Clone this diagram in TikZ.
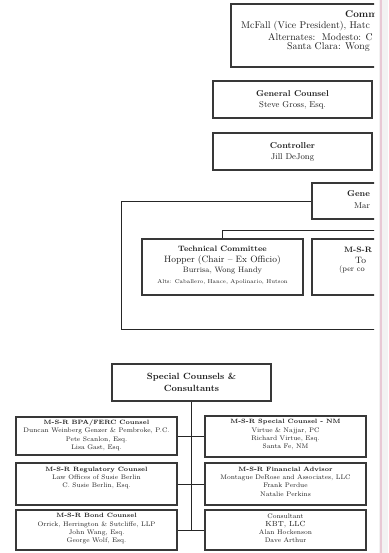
\documentclass[tikz,border=0pt]{standalone}
\usepackage{fontspec}
\newcommand\fsz[2]{\fontsize{#1}{#2}\selectfont}
\newcommand\wide[1]{\addfontfeature{FakeStretch=#1}}
\definecolor{pinkline}{RGB}{232,200,212}
\definecolor{ink}{RGB}{30,30,30}
\begin{document}
\begin{tikzpicture}[x=1pt,y=-1pt,
  box/.style={draw=black!78, line width=1.2pt, fill=white, inner sep=0pt, text=ink, align=center},
  conn/.style={draw=black!85, line width=1pt},
  txt/.style={inner sep=0pt, text=ink, align=center},
  small/.style={txt, anchor=north, font=\fsz{6.6}{8.2}},
]
\useasboundingbox (0,0) rectangle (388,553);
\fill[white] (0,0) rectangle (388,553);
\fill[black!5] (379,0) rectangle (388,553);
\draw[pinkline, line width=2pt] (381,0) -- (381,553);

\begin{scope}
\clip (0,0) rectangle (374,553);
% top commission box
\node[box, minimum width=200pt, minimum height=63pt] (comm) at (331,35.5) {};
\node[txt, anchor=west, font=\fsz{9.8}{11}\bfseries] (comm1) at (345,14) {Comm};
\node[txt, anchor=west, font=\fsz{9.8}{11}\wide{1.26}] (comm2) at (241,26) {McFall (Vice President), Hatc};
\node[txt, anchor=west, font=\fsz{9.8}{11}\wide{1.25}] (comm3) at (268,37) {Alternates:\ \ Modesto: C};
\node[txt, anchor=west, font=\fsz{9.8}{11}\wide{1.05}] (comm4) at (287,47) {Santa Clara: Wong};

% general counsel, controller
\node[box, minimum width=159pt, minimum height=37pt, font=\fsz{8.5}{11}] (gc) at (292.5,99.5) {{\bfseries General Counsel}\\Steve Gross, Esq.};
\node[box, minimum width=159pt, minimum height=37pt, font=\fsz{8.5}{11}] (ctl) at (292.5,151.5) {{\bfseries Controller}\\Jill DeJong};

% general manager and enclosure
\node[box, minimum width=158pt, minimum height=36pt] (gm) at (391,201) {};
\node[txt, anchor=west, font=\fsz{8.5}{10}\bfseries] (gm1) at (347,194) {Gene};
\node[txt, anchor=west, font=\fsz{8.5}{10}] (gm2) at (354,206) {Mar};
\coordinate (encTL) at (121,201);
\coordinate (encBL) at (121,329);
\coordinate (encBR) at (400,329);
\draw[conn] (gm.west) -- (encTL) -- (encBL) -- (encBR);

% technical committee
\node[box, minimum width=161pt, minimum height=56pt] (tc) at (222.5,267) {};
\node[txt, font=\fsz{7.8}{9}\bfseries] (tc1) at (222.5,249) {Technical Committee};
\node[txt, font=\fsz{9.2}{10}] (tc2) at (222.5,260) {Hopper (Chair -- Ex Officio)};
\node[txt, font=\fsz{7.8}{9}] (tc3) at (222.5,271) {Burrisa, Wong Handy};
\node[txt, font=\fsz{5.6}{7}] (tc4) at (222.5,282) {Alts: Caballero, Hance, Apolinario, Hutson};

% M-S-R box
\node[box, minimum width=158pt, minimum height=56pt] (msr) at (391,267) {};
\node[txt, anchor=west, font=\fsz{7.8}{9}\bfseries] (msr1) at (344,250) {M-S-R};
\node[txt, anchor=west, font=\fsz{9.2}{10}] (msr2) at (355,260) {To};
\node[txt, anchor=west, font=\fsz{7.8}{9}] (msr3) at (339,270) {(per co};

\coordinate (brL) at (222.5,230);
\coordinate (brR) at (400,230);
\draw[conn] (tc.north) -- (brL) -- (brR);
\end{scope}

% special counsels
\node[box, minimum width=159pt, minimum height=37pt, font=\fsz{9}{12}\bfseries] (sp) at (191.5,382.5) {Special Counsels \&\\Consultants};

% left column
\node[box, minimum width=161pt, minimum height=38pt] (bpa) at (96.5,436) {};
\node[box, minimum width=161pt, minimum height=42pt] (reg) at (96.5,484) {};
\node[box, minimum width=161pt, minimum height=40pt] (bond) at (96.5,530) {};
% right column
\node[box, minimum width=161pt, minimum height=41pt] (nm) at (285.5,436.5) {};
\node[box, minimum width=161pt, minimum height=42pt] (fin) at (285.5,484) {};
\node[box, minimum width=161pt, minimum height=40pt] (cons) at (285.5,530) {};

\node[small] (bpat) at ([yshift=-3.5pt]bpa.north) {{\bfseries\fsz{6.2}{8.2}M-S-R BPA/FERC Counsel}\\Duncan Weinberg Genzer \& Pembroke, P.C.\\Pete Scanlon, Esq.\\Lisa Gast, Esq.};
\node[small] (regt) at ([yshift=-4.5pt]reg.north) {{\bfseries\fsz{6.2}{8.2}M-S-R Regulatory Counsel}\\Law Offices of Susie Berlin\\C. Susie Berlin, Esq.};
\node[small] (bondt) at ([yshift=-4pt]bond.north) {{\bfseries\fsz{6.2}{8.2}M-S-R Bond Counsel}\\Orrick, Herrington \& Sutcliffe, LLP\\John Wang, Esq.\\George Wolf, Esq.};
\node[small] (nmt) at ([yshift=-4pt]nm.north) {{\bfseries\fsz{6.2}{8.2}M-S-R Special Counsel - NM}\\Virtue \& Najjar, PC\\Richard Virtue, Esq.\\Santa Fe, NM};
\node[small] (fint) at ([yshift=-4.5pt]fin.north) {{\bfseries\fsz{6.2}{8.2}M-S-R Financial Advisor}\\Montague DeRose and Associates, LLC\\Frank Perdue\\Natalie Perkins};
\node[small] (const) at ([yshift=-4pt]cons.north) {Consultant\\{\fsz{7.4}{8.2}KBT, LLC}\\Alan Hockenson\\Dave Arthur};

% connectors
\draw[conn] (sp.south) -- (sp.south |- bond.east);
\draw[conn] (bpa.east) -- (nm.west |- bpa.east);
\draw[conn] (reg.east) -- (fin.west);
\draw[conn] (bond.east) -- (cons.west);
\end{tikzpicture}
\end{document}
